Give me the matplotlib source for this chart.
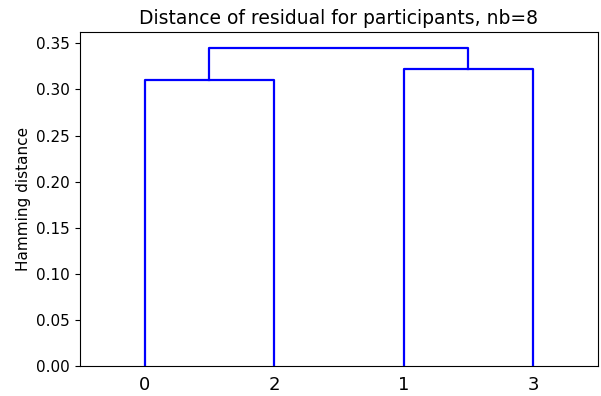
import numpy as np
import matplotlib
matplotlib.use("Agg")
import matplotlib.pyplot as plt

# dendrogram data: leaf order and merge heights
leaf_labels = ["0", "2", "1", "3"]
left_height = 0.310   # merge of leaves 0 and 2
right_height = 0.3225  # merge of leaves 1 and 3
top_height = 0.345    # final merge

leaf_x = 5 + 10 * np.arange(len(leaf_labels))

fig = plt.figure(figsize=(6.01, 3.96), dpi=100)
ax = fig.add_axes([0.133, 0.076, 0.862, 0.843])

# left cluster
lx = [leaf_x[0], leaf_x[0], leaf_x[1], leaf_x[1]]
ax.plot(lx, [0, left_height, left_height, 0], color="b", lw=1.6)
# right cluster
rx = [leaf_x[2], leaf_x[2], leaf_x[3], leaf_x[3]]
ax.plot(rx, [0, right_height, right_height, 0], color="b", lw=1.6)
# top link
lmid = (leaf_x[0] + leaf_x[1]) / 2
rmid = (leaf_x[2] + leaf_x[3]) / 2
ax.plot([lmid, lmid, rmid, rmid], [left_height, top_height, top_height, right_height],
        color="b", lw=1.6)

ax.set_xlim(0, 10 * len(leaf_labels))
ax.set_ylim(0, top_height * 1.05)
ax.set_xticks(leaf_x)
ax.set_xticklabels(leaf_labels, fontsize=13)
ax.tick_params(axis="x", length=0, pad=7)
ax.tick_params(axis="y", labelsize=11)
ax.set_ylabel("Hamming distance", fontsize=11)
ax.set_title("Distance of residual for participants, nb=8", fontsize=13.5)

fig.savefig("out.png", dpi=100)
